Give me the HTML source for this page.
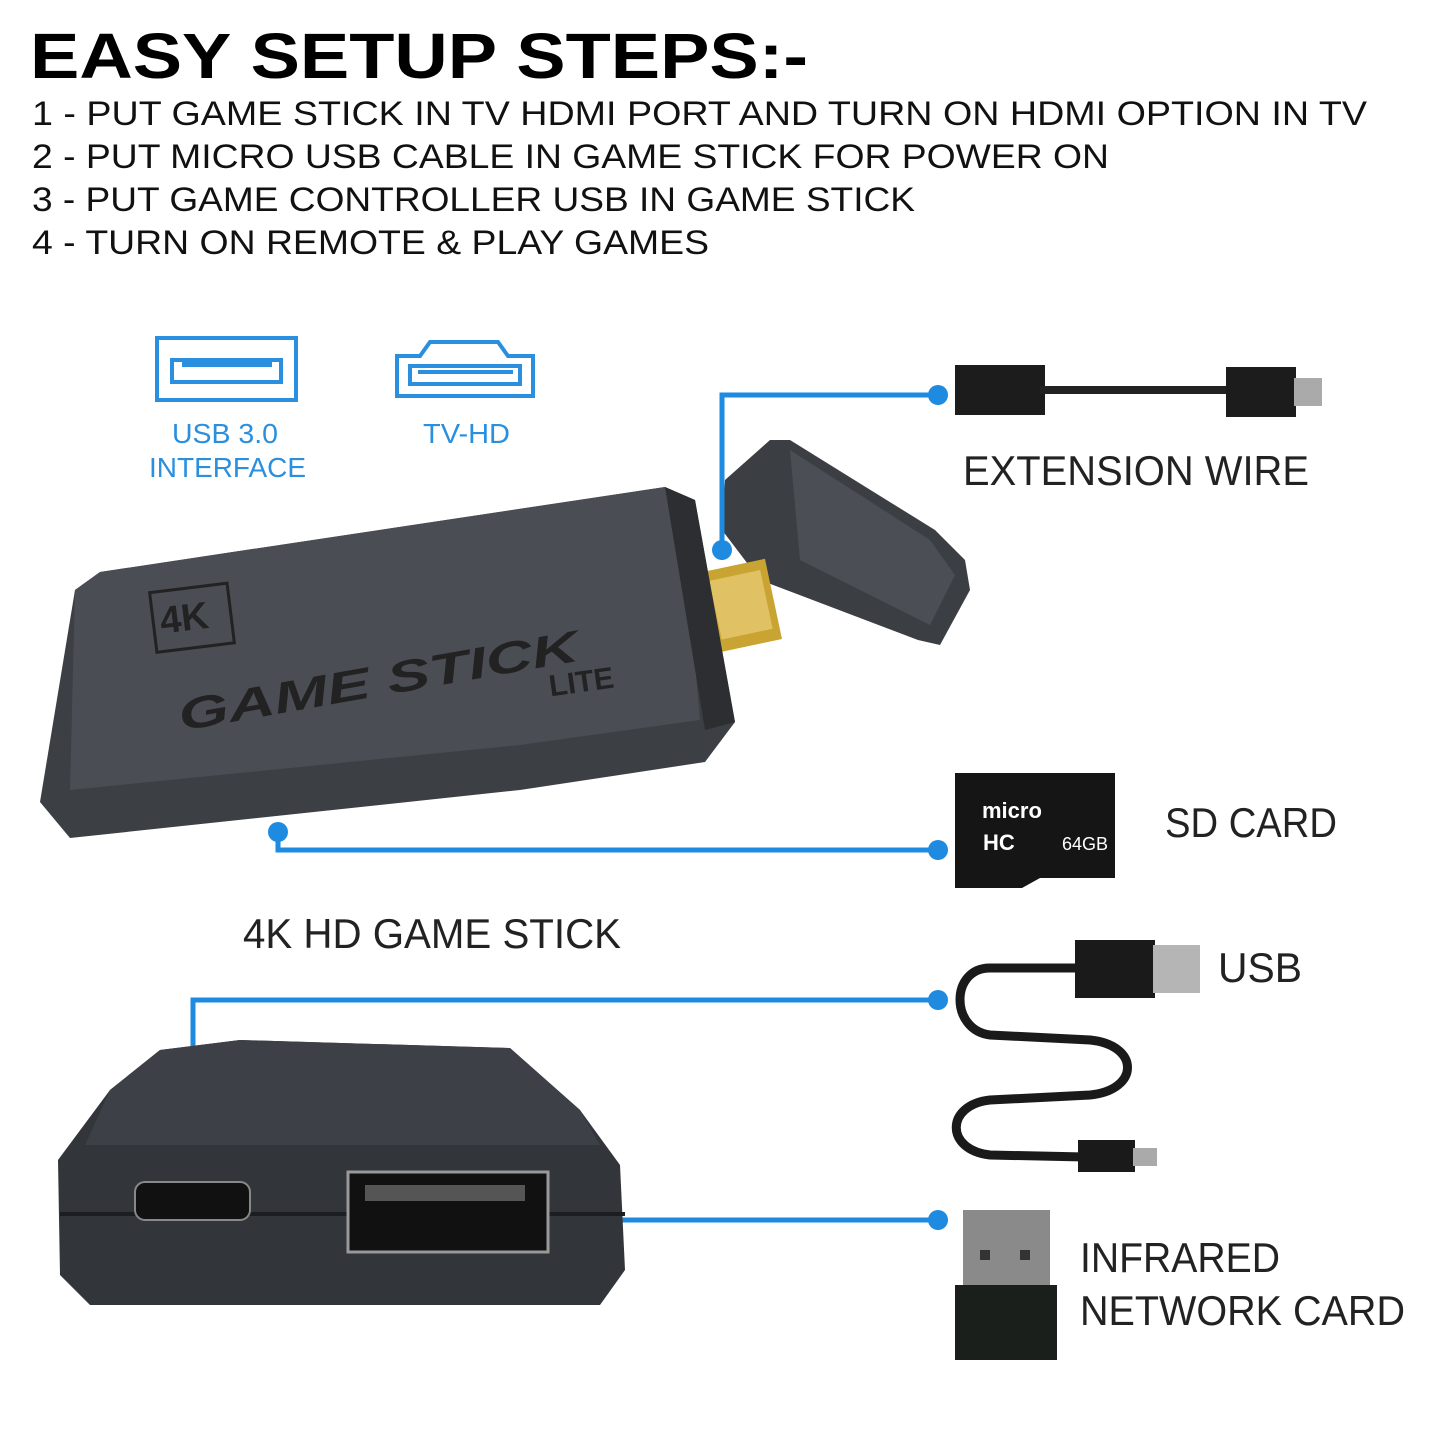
<!DOCTYPE html>
<html><head><meta charset="utf-8"><style>
html,body{margin:0;padding:0;background:#fff;}
svg{display:block}
</style></head><body>
<svg width="1445" height="1445" viewBox="0 0 1445 1445" xmlns="http://www.w3.org/2000/svg" font-family="Liberation Sans, sans-serif">
<rect width="1445" height="1445" fill="#fff"/>
<text x="30" y="78" font-size="64" font-weight="bold" fill="#000" textLength="778" lengthAdjust="spacingAndGlyphs">EASY SETUP STEPS:-</text>
<g font-size="34" fill="#111">
<text x="32" y="125" textLength="1335" lengthAdjust="spacingAndGlyphs">1 - PUT GAME STICK IN TV HDMI PORT AND TURN ON HDMI OPTION IN TV</text>
<text x="32" y="168" textLength="1077" lengthAdjust="spacingAndGlyphs">2 - PUT MICRO USB CABLE IN GAME STICK FOR POWER ON</text>
<text x="32" y="211" textLength="883" lengthAdjust="spacingAndGlyphs">3 - PUT GAME CONTROLLER USB IN GAME STICK</text>
<text x="32" y="254" textLength="677" lengthAdjust="spacingAndGlyphs">4 - TURN ON REMOTE &amp; PLAY GAMES</text>
</g>
<g stroke="#2a8fde" fill="none" stroke-width="4">
<rect x="157" y="338" width="139" height="62"/>
<rect x="172" y="360" width="109" height="22"/>
<path d="M397 396 L397 356 L420 356 L430 342 L498 342 L508 356 L533 356 L533 396 Z"/>
<rect x="410" y="366" width="110" height="18"/>
</g>
<g fill="#2a8fde">
<rect x="182" y="362" width="90" height="5"/>
<rect x="418" y="370" width="95" height="4"/>
</g>
<g fill="#2a8fde" font-size="28">
<text x="172" y="443" textLength="106" lengthAdjust="spacingAndGlyphs">USB 3.0</text>
<text x="149" y="477" textLength="157" lengthAdjust="spacingAndGlyphs">INTERFACE</text>
<text x="423" y="443" textLength="87" lengthAdjust="spacingAndGlyphs">TV-HD</text>
</g>
<path d="M725 480 L770 440 L790 440 L935 530 L965 560 L970 590 L940 645 L918 640 L760 580 L722 530 Z" fill="#3b3e43"/>
<path d="M790 450 L930 540 L955 575 L930 625 L800 560 Z" fill="#4b4f55"/>
<g transform="rotate(-12 740 605)"><rect x="708" y="565" width="66" height="82" fill="#c9a432"/><rect x="715" y="575" width="52" height="60" fill="#e0c265"/></g>
<path d="M100 572 L665 487 L695 500 L735 722 L705 762 L520 790 L70 838 L40 802 L75 590 Z" fill="#3c3f44"/>
<path d="M100 572 L665 487 L680 500 L700 720 L520 745 L70 790 L75 590 Z" fill="#4a4d53"/>
<path d="M665 487 L695 500 L735 722 L705 730 Z" fill="#2c2e32"/>
<g fill="#222" font-weight="bold">
<rect x="153" y="588" width="78" height="60" fill="none" stroke="#222" stroke-width="3" transform="rotate(-7 190 618)"/>
<text x="160" y="630" font-size="38" transform="rotate(-7 190 618)">4K</text>
<text x="172" y="697" font-size="44" transform="rotate(-10 370 660)" textLength="405" lengthAdjust="spacingAndGlyphs" font-style="italic">GAME STICK</text>
<text x="548" y="690" font-size="30" transform="rotate(-8 595 675)">LITE</text>
</g>
<g stroke="#1e8ae0" stroke-width="5" fill="none">
<path d="M722 550 L722 395 L938 395"/>
<path d="M278 832 L278 850 L938 850"/>
<path d="M193 1168 L193 1000 L938 1000"/>
<path d="M570 1220 L938 1220"/>
</g>
<g fill="#1e8ae0">
<circle cx="722" cy="550" r="10"/><circle cx="938" cy="395" r="10"/>
<circle cx="278" cy="832" r="10"/><circle cx="938" cy="850" r="10"/>
<circle cx="193" cy="1168" r="10"/><circle cx="938" cy="1000" r="10"/>
<circle cx="570" cy="1220" r="10"/><circle cx="938" cy="1220" r="10"/>
</g>
<rect x="955" y="365" width="90" height="50" fill="#1c1c1c"/>
<rect x="1040" y="386" width="190" height="8" fill="#222"/>
<rect x="1226" y="367" width="70" height="50" fill="#1c1c1c"/>
<rect x="1294" y="378" width="28" height="28" fill="#aaa"/>
<g fill="#222" font-size="42">
<text x="963" y="485" textLength="346" lengthAdjust="spacingAndGlyphs">EXTENSION WIRE</text>
<text x="1165" y="837" textLength="172" lengthAdjust="spacingAndGlyphs">SD CARD</text>
<text x="243" y="948" textLength="378" lengthAdjust="spacingAndGlyphs">4K HD GAME STICK</text>
<text x="1218" y="982" textLength="84" lengthAdjust="spacingAndGlyphs">USB</text>
<text x="1080" y="1272" textLength="200" lengthAdjust="spacingAndGlyphs">INFRARED</text>
<text x="1080" y="1325" textLength="325" lengthAdjust="spacingAndGlyphs">NETWORK CARD</text>
</g>
<path d="M955 773 L1115 773 L1115 878 L1040 878 L1022 888 L955 888 Z" fill="#151515"/>
<text x="982" y="818" fill="#fff" font-size="22" font-weight="bold">micro</text>
<text x="983" y="850" fill="#fff" font-size="22" font-weight="bold">HC</text>
<text x="1062" y="850" fill="#fff" font-size="18">64GB</text>
<path d="M1080 968 L990 968 C950 968 950 1030 990 1035 L1090 1040 C1140 1045 1140 1090 1090 1095 L990 1100 C945 1105 945 1150 990 1155 L1085 1157" stroke="#1a1a1a" stroke-width="9" fill="none"/>
<rect x="1075" y="940" width="80" height="58" fill="#1a1a1a"/>
<rect x="1153" y="945" width="47" height="48" fill="#b5b5b5"/>
<rect x="1078" y="1140" width="57" height="32" fill="#1a1a1a"/>
<rect x="1133" y="1148" width="24" height="18" fill="#aaa"/>
<path d="M160 1050 L240 1040 L510 1048 L580 1110 L620 1165 L625 1270 L600 1305 L90 1305 L60 1275 L58 1160 L110 1090 Z" fill="#32353a"/>
<path d="M160 1050 L240 1040 L510 1048 L580 1110 L600 1145 L85 1145 L110 1090 Z" fill="#3d4046"/>
<rect x="60" y="1212" width="565" height="4" fill="#1c1d20"/>
<rect x="135" y="1182" width="115" height="38" rx="10" fill="#111" stroke="#888" stroke-width="2"/>
<rect x="348" y="1172" width="200" height="80" fill="#111" stroke="#999" stroke-width="3"/>
<rect x="365" y="1185" width="160" height="16" fill="#555"/>
<rect x="963" y="1210" width="87" height="80" fill="#8a8a8a"/>
<rect x="980" y="1250" width="10" height="10" fill="#333"/><rect x="1020" y="1250" width="10" height="10" fill="#333"/>
<rect x="955" y="1285" width="102" height="75" fill="#1a1f1c"/>
</svg>
</body></html>
